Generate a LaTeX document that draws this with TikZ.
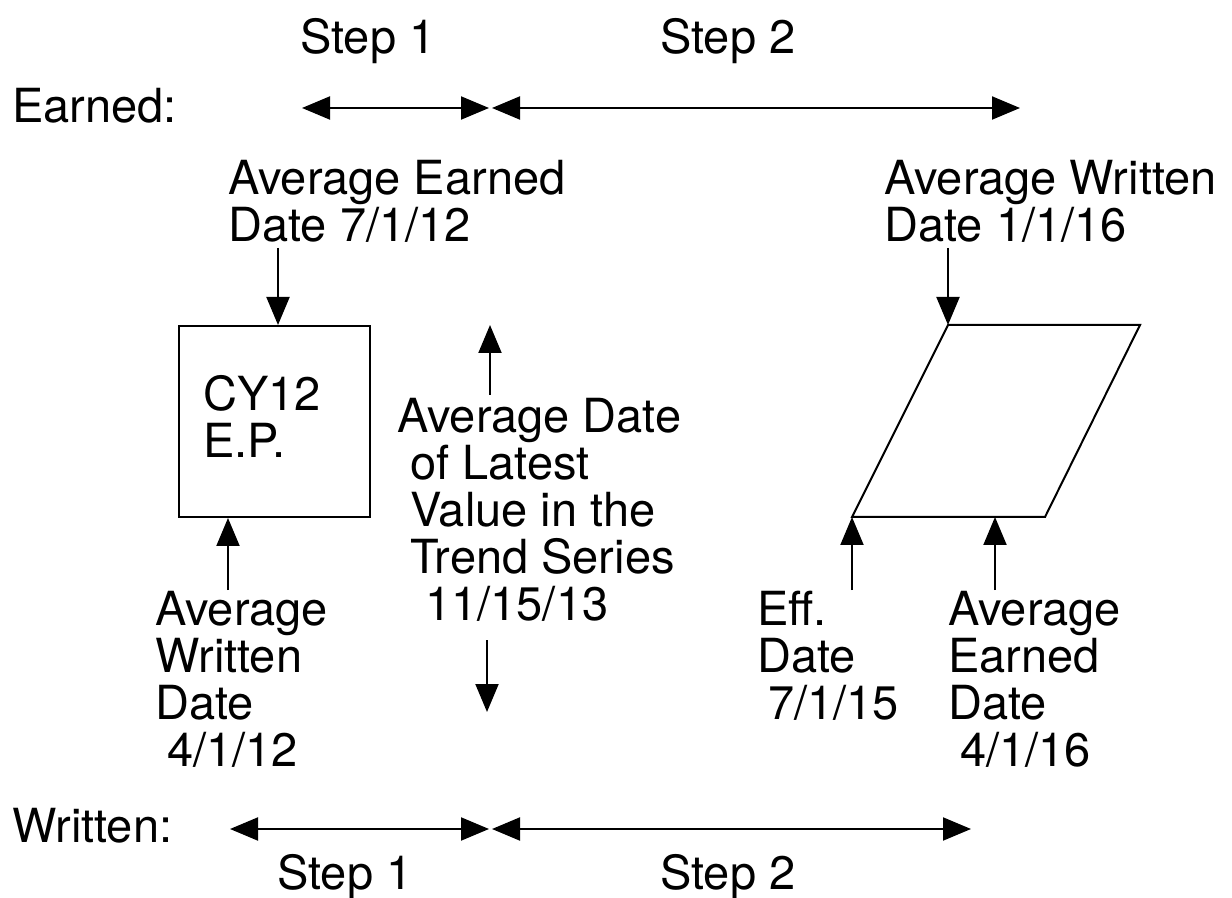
\documentclass[tikz,border=0pt]{standalone}
\usepackage{fontspec}
\setmainfont{TeX Gyre Heros}
\usetikzlibrary{arrows.meta}
\tikzset{
	lbl/.style={anchor=north west,inner sep=0pt,align=left,font=\fontsize{23.5}{23.5}\selectfont},
	tip/.style={Triangle[length=14pt,width=11.5pt]},
	arr/.style={line width=1pt,-{Triangle[length=14pt,width=11.5pt]}},
	dbl/.style={line width=1pt,{Triangle[length=14pt,width=11.5pt]}-{Triangle[length=14pt,width=11.5pt]}}
}
\newcommand*{\ind}[1]{\hspace*{#1pt}}

\begin{document}
\begin{tikzpicture}[x=0.5pt,y=-0.5pt]
		\useasboundingbox (0,0) rectangle (1232,898);
		
		% step arrows
		\coordinate (e1) at (302,108);
		\coordinate (e2) at (489,108);
		\coordinate (e3) at (492,108);
		\coordinate (e4) at (1020,108);
		\coordinate (w1) at (230,829);
		\coordinate (w2) at (489,829);
		\coordinate (w3) at (492,829);
		\coordinate (w4) at (971,829);
		\draw[dbl] (e1) -- (e2);
		\draw[dbl] (e3) -- (e4);
		\draw[dbl] (w1) -- (w2);
		\draw[dbl] (w3) -- (w4);
		
		% labels for the rows
		\node[lbl] (earned) at (12,88) {Earned:};
		\node[lbl] (written) at (12,808) {Written:};
		\node[lbl] (stepE1) at (300,18) {Step 1};
		\node[lbl] (stepE2) at (660,18) {Step 2};
		\node[lbl] (stepW1) at (277,854) {Step 1};
		\node[lbl] (stepW2) at (660,854) {Step 2};
		
		% CY12 box
		\node[draw,line width=1pt,anchor=north west,minimum width=95.5pt,minimum height=95.5pt,inner sep=0pt] (ep) at (178,325) {};
		\node[lbl] (eplbl) at (203,375) {CY12\\E.P.};
		\node[lbl] (avgE) at (228,160) {Average Earned\\Date 7/1/12};
		\node[lbl] (avgW) at (155,591) {Average\\Written\\Date\\\ind{6}4/1/12};
		\coordinate (ae) at (278,248);
		\coordinate (aw) at (228,590);
		\draw[arr] (ae) -- (ae |- ep.north);
		\draw[arr] (aw) -- (aw |- ep.south);
		
		% trend series
		\node[lbl] (trend) at (397,398) {Average Date\\\ind{6.5}of Latest\\\ind{6.5}Value in the\\\ind{6.5}Trend Series\\\ind{14}11/15/13};
		\coordinate (mu1) at (490,395);
		\coordinate (mu2) at (490,325);
		\coordinate (md1) at (487,640);
		\coordinate (md2) at (487,712);
		\draw[arr] (mu1) -- (mu2);
		\draw[arr] (md1) -- (md2);
		
		% the parallelogram
		\coordinate (p1) at (948,325);
		\coordinate (p2) at (1140,325);
		\coordinate (p3) at (1045,517);
		\coordinate (p4) at (852,517);
		\draw[line width=1pt] (p1) -- (p2) -- (p3) -- (p4) -- cycle;
		\node[lbl] (avgW2) at (884,160) {Average Written\\Date 1/1/16};
		\node[lbl] (eff) at (757,591) {Eff.\\Date\\\ind{5.5}7/1/15};
		\node[lbl] (avgE2) at (948,591) {Average\\Earned\\Date\\\ind{6}4/1/16};
		\coordinate (aw2) at (948,248);
		\coordinate (ef) at (852,590);
		\coordinate (ae2) at (995,590);
		\draw[arr] (aw2) -- (p1);
		\draw[arr] (ef) -- (p4);
		\draw[arr] (ae2) -- (ae2 |- p4);
		
	\end{tikzpicture}
\end{document}
